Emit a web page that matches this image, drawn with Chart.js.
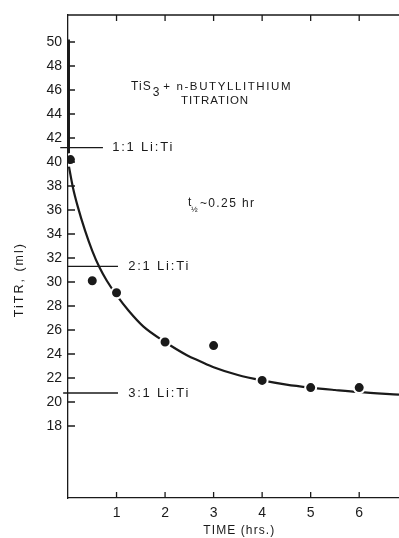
<!DOCTYPE html>
<html lang="en">
<head>
    <meta charset="UTF-8">
    <title>TiS3 + n-Butyllithium titration</title>
    <script src="https://cdn.jsdelivr.net/npm/chart.js"></script>
    <style>
        html, body { margin: 0; padding: 0; background: #fff; }
        #wrap { width: 399px; height: 538px; }
    </style>
</head>
<body>
    <div id="wrap"><canvas id="titr"></canvas></div>

    <script>
        // measured points (time in hrs, titre in ml)
        const timeHrs = [0.05, 0.5, 1, 2, 3, 4, 5, 6];
        const titreMl = [40.2, 30.1, 29.1, 25.0, 24.7, 21.8, 21.2, 21.2];

        // hand drawn fitted curve
        const curveTime  = [0.02, 0.1, 0.2, 0.35, 0.5, 0.65, 0.8, 1.0, 1.25, 1.55, 2.0, 2.45, 2.72, 3.0, 3.5, 4.0, 4.5, 5.0, 5.5, 6.0, 6.82];
        const curveTitre = [39.6, 37.9, 36.3, 34.3, 32.6, 31.2, 30.1, 28.9, 27.6, 26.3, 25.0, 23.9, 23.4, 22.9, 22.25, 21.8, 21.45, 21.2, 21.0, 20.82, 20.62];

        // steep start of the curve, drawn along the axis
        const startTime  = [0.01, 0.01];
        const startTitre = [50.2, 40.6];

        // Li:Ti ratio markers
        const ratioLabels = ['1:1 Li:Ti', '2:1 Li:Ti', '3:1 Li:Ti'];
        const ratioTitre  = [41.2, 31.3, 20.75];
        const ratioFrom   = [-0.16, -0.02, -0.1];
        const ratioTo     = [0.72, 1.03, 1.03];

        const xTickLabels = ['1', '2', '3', '4', '5', '6'];
        const yTickLabels = ['18', '20', '22', '24', '26', '28', '30', '32', '34', '36', '38', '40', '42', '44', '46', '48', '50'];

        const ink = '#1a1a1a';
        const font = "'Liberation Sans', Arial, sans-serif";

        const toXY = (xs, ys) => xs.map((x, i) => ({ x: x, y: ys[i] }));

        const ratioSets = ratioLabels.map((lab, i) => ({
            type: 'line',
            label: lab,
            data: [{ x: ratioFrom[i], y: ratioTitre[i] }, { x: ratioTo[i], y: ratioTitre[i] }],
            borderColor: ink,
            borderWidth: 1.3,
            pointRadius: 0,
            clip: false,
            order: 3
        }));

        function spaced(ctx, text, x, y, size, spacing) {
            ctx.font = size + 'px ' + font;
            ctx.letterSpacing = spacing + 'px';
            ctx.fillText(text, x, y);
            const w = ctx.measureText(text).width;
            ctx.letterSpacing = '0px';
            return w;
        }

        // frame, inward ticks and the free text of the figure
        const decorations = {
            id: 'decorations',
            afterDraw(chart) {
                const ctx = chart.ctx;
                const xs = chart.scales.x, ys = chart.scales.y;
                const a = chart.chartArea;
                ctx.save();
                ctx.strokeStyle = ink;
                ctx.lineWidth = 1.3;
                ctx.beginPath();
                ctx.moveTo(a.left, a.top);
                ctx.lineTo(chart.width, a.top);
                xTickLabels.forEach(t => {
                    const px = xs.getPixelForValue(+t);
                    ctx.moveTo(px, a.bottom);
                    ctx.lineTo(px, a.bottom - 6);
                    ctx.moveTo(px, a.top);
                    ctx.lineTo(px, a.top + 6);
                });
                yTickLabels.forEach(t => {
                    const py = ys.getPixelForValue(+t);
                    ctx.moveTo(a.left, py);
                    ctx.lineTo(a.left + 7, py);
                });
                ctx.stroke();

                ctx.fillStyle = ink;
                ctx.textBaseline = 'middle';
                ctx.textAlign = 'left';

                // ratio labels
                const labX = [0.91, 1.24, 1.24];
                ratioLabels.forEach((lab, i) => {
                    spaced(ctx, lab, xs.getPixelForValue(labX[i]), ys.getPixelForValue(ratioTitre[i]), 13, 1.8);
                });

                // title block
                let px = xs.getPixelForValue(1.3);
                let py = ys.getPixelForValue(46.3);
                px += spaced(ctx, 'TiS', px, py, 12, 1) + 1;
                px += spaced(ctx, '3', px, py + 6, 12, 0) + 4;
                spaced(ctx, '+ n-BUTYLLITHIUM', px, py, 11.5, 1.6);
                ctx.textAlign = 'center';
                spaced(ctx, 'TITRATION', xs.getPixelForValue(3.03), ys.getPixelForValue(45.1), 11.5, 0.9);

                // half life
                ctx.textAlign = 'left';
                px = xs.getPixelForValue(2.47);
                py = ys.getPixelForValue(36.5);
                spaced(ctx, 't', px, py - 1, 12, 0);
                spaced(ctx, '½', px + 3, py + 6, 8, 0);
                spaced(ctx, '~0.25 hr', px + 12, py, 12, 1.4);

                // x axis title
                ctx.textAlign = 'center';
                spaced(ctx, 'TIME (hrs.)', xs.getPixelForValue(3.53), 531, 12, 1.1);

                // y axis title
                ctx.translate(20, ys.getPixelForValue(30.2));
                ctx.rotate(-Math.PI / 2);
                spaced(ctx, 'TiTR, (ml)', 0, 0, 12.5, 2);
                ctx.restore();
            }
        };

        const config = {
            type: 'scatter',
            data: {
                datasets: [
                    {
                        label: 'TiTR',
                        data: toXY(timeHrs, titreMl),
                        backgroundColor: ink,
                        borderColor: '#ffffff',
                        borderWidth: 2,
                        pointRadius: 5.5,
                        order: 1
                    },
                    {
                        type: 'line',
                        label: 'fit',
                        data: toXY(curveTime, curveTitre),
                        borderColor: ink,
                        borderWidth: 2.2,
                        pointRadius: 0,
                        cubicInterpolationMode: 'monotone',
                        order: 2
                    },
                    {
                        type: 'line',
                        label: 'start',
                        data: toXY(startTime, startTitre),
                        borderColor: ink,
                        borderWidth: 3,
                        pointRadius: 0,
                        order: 2
                    },
                    ...ratioSets
                ]
            },
            options: {
                responsive: true,
                maintainAspectRatio: false,
                animation: false,
                layout: { autoPadding: false, padding: { top: 15, right: 0, left: 0, bottom: 0 } },
                plugins: {
                    legend: { display: false },
                    tooltip: { enabled: false }
                },
                scales: {
                    x: {
                        type: 'linear',
                        min: 0,
                        max: 6.82,
                        grid: { display: false, drawTicks: false },
                        border: { display: true, color: ink, width: 1.3 },
                        ticks: {
                            padding: 7,
                            color: ink,
                            font: { family: font, size: 14 },
                            callback: v => xTickLabels.includes(String(v)) ? String(v) : ''
                        },
                        afterBuildTicks: s => { s.ticks = xTickLabels.map(v => ({ value: +v })); },
                        afterFit: s => { s.height = 40; s.paddingLeft = 0; s.paddingRight = 0; }
                    },
                    y: {
                        type: 'linear',
                        min: 12,
                        max: 52.25,
                        grid: { display: false, drawTicks: false },
                        border: { display: true, color: ink, width: 1.3 },
                        ticks: {
                            padding: 6,
                            color: ink,
                            font: { family: font, size: 14 },
                            callback: v => String(v)
                        },
                        afterBuildTicks: s => { s.ticks = yTickLabels.map(v => ({ value: +v })); },
                        afterFit: s => { s.width = 68; s.paddingTop = 0; s.paddingBottom = 0; }
                    }
                }
            },
            plugins: [decorations]
        };

        new Chart(document.getElementById('titr'), config);
    </script>
</body>
</html>
